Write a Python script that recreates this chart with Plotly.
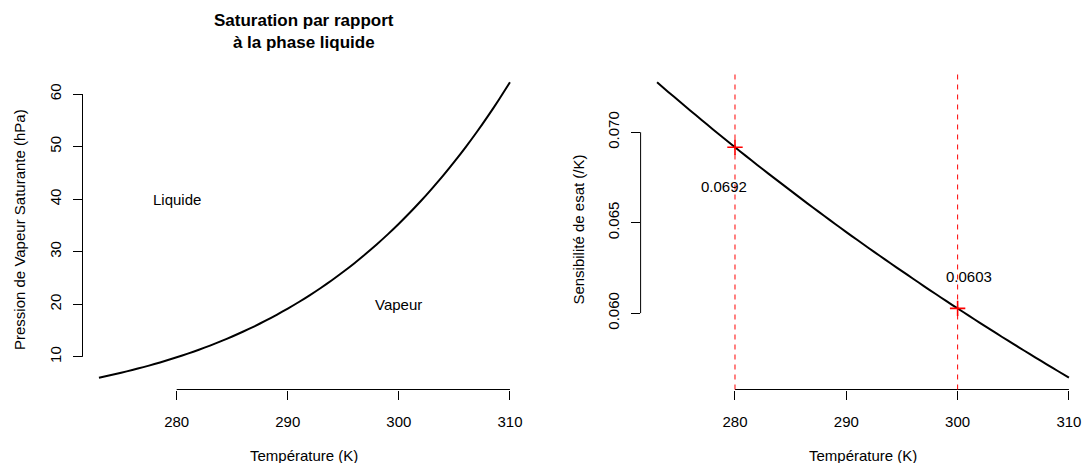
import plotly.graph_objects as go

# ---- data ----
temperature = list(range(273, 311))  # K
esat_hpa = [6.04, 6.50, 6.99, 7.50, 8.05, 8.63, 9.26, 9.92, 10.61, 11.36,
            12.15, 12.99, 13.88, 14.82, 15.82, 16.88, 18.00, 19.19, 20.44, 21.76,
            23.15, 24.63, 26.19, 27.82, 29.56, 31.38, 33.30, 35.33, 37.45, 39.69,
            42.06, 44.52, 47.13, 49.86, 52.73, 55.75, 58.91, 62.23]
sensibilite = [0.07276, 0.07223, 0.07171, 0.07119, 0.07068, 0.07017, 0.06967, 0.06917,
               0.06868, 0.06819, 0.06771, 0.06724, 0.06677, 0.06630, 0.06584, 0.06538,
               0.06493, 0.06448, 0.06404, 0.06360, 0.06317, 0.06274, 0.06232, 0.06190,
               0.06148, 0.06107, 0.06066, 0.06026, 0.05986, 0.05946, 0.05907, 0.05868,
               0.05830, 0.05792, 0.05754, 0.05717, 0.05680, 0.05643]

x_ticks = [280, 290, 300, 310]
y1_ticks = [10, 20, 30, 40, 50, 60]
y2_ticks = [0.060, 0.065, 0.070]

region_labels = ["Liquide", "Vapeur"]
region_x = [280, 300]
region_y = [40, 20]

mark_T = [280, 300]
mark_text = ["0.0692", "0.0603"]
mark_text_x = [279, 301]
mark_text_y = [0.0670, 0.0620]

title_left = "Saturation par rapport<br>à la phase liquide"
xlabel = "Température (K)"
ylabel_left = "Pression de Vapeur Saturante (hPa)"
ylabel_right = "Sensibilité de esat (/K)"

# ---- geometry ----
W, H = 1086, 463
FONT = "Liberation Sans, Arial, Helvetica, sans-serif"
FS = 15


def padded(vals):
    lo, hi = min(vals), max(vals)
    p = 0.04 * (hi - lo)
    return [lo - p, hi + p]


xr = padded(temperature)
y1r = padded(esat_hpa)
y2r = padded(sensibilite)

dom_x1 = [82.5 / W, 526.4 / W]
dom_x2 = [640.6 / W, 1085.4 / W]
dom_y = [(H - 389.5) / H, (H - 70.5) / H]

fig = go.Figure()
fig.add_trace(go.Scatter(x=temperature, y=esat_hpa, mode="lines",
                         line=dict(color="black", width=2, shape="spline", smoothing=0.6),
                         xaxis="x", yaxis="y", showlegend=False, hoverinfo="skip"))
fig.add_trace(go.Scatter(x=temperature, y=sensibilite, mode="lines",
                         line=dict(color="black", width=2, shape="spline", smoothing=0.6),
                         xaxis="x2", yaxis="y2", showlegend=False, hoverinfo="skip"))

mark_y = [sensibilite[temperature.index(t)] for t in mark_T]
fig.add_trace(go.Scatter(x=mark_T, y=mark_y, mode="markers",
                         marker=dict(symbol="cross-thin", size=11,
                                     line=dict(color="red", width=1.6)),
                         xaxis="x2", yaxis="y2", showlegend=False, hoverinfo="skip"))

axis_common = dict(showgrid=False, zeroline=False, showline=False,
                   ticks="outside", ticklen=9, tickwidth=1, tickcolor="black",
                   tickfont=dict(family=FONT, size=FS, color="black"))

fig.update_layout(
    width=W, height=H,
    margin=dict(l=0, r=0, t=0, b=0),
    paper_bgcolor="white", plot_bgcolor="white",
    font=dict(family=FONT, size=FS, color="black"),
    xaxis=dict(domain=dom_x1, range=xr, tickvals=x_ticks, anchor="y",
               ticklabelstandoff=9, **axis_common),
    yaxis=dict(domain=dom_y, range=y1r, tickvals=y1_ticks, anchor="x",
               tickangle=-90, ticklabelstandoff=6, **axis_common),
    xaxis2=dict(domain=dom_x2, range=xr, tickvals=x_ticks, anchor="y2",
                ticklabelstandoff=9, **axis_common),
    yaxis2=dict(domain=dom_y, range=y2r, tickvals=y2_ticks, anchor="x2",
                tickformat=".3f", tickangle=-90, ticklabelstandoff=6, **axis_common),
)

shapes = []
# R-style axis lines spanning first to last tick
for xa, ya, yt in (("x", "y", y1_ticks), ("x2", "y2", y2_ticks)):
    shapes.append(dict(type="line", xref=xa, yref=ya + " domain",
                       x0=x_ticks[0], x1=x_ticks[-1], y0=0, y1=0,
                       line=dict(color="black", width=1)))
    shapes.append(dict(type="line", xref=xa + " domain", yref=ya,
                       x0=0, x1=0, y0=yt[0], y1=yt[-1],
                       line=dict(color="black", width=1)))
# red dashed verticals
for t in mark_T:
    shapes.append(dict(type="line", xref="x2", yref="y2 domain",
                       x0=t, x1=t, y0=0, y1=1,
                       line=dict(color="red", width=1, dash="5px,5px")))
fig.update_layout(shapes=shapes)

ann = []
for lab, x, y in zip(region_labels, region_x, region_y):
    ann.append(dict(text=lab, x=x, y=y, xref="x", yref="y", showarrow=False,
                    font=dict(family=FONT, size=FS, color="black")))
for lab, x, y in zip(mark_text, mark_text_x, mark_text_y):
    ann.append(dict(text=lab, x=x, y=y, xref="x2", yref="y2", showarrow=False,
                    font=dict(family=FONT, size=FS, color="black")))

cx1 = (dom_x1[0] + dom_x1[1]) / 2
cx2 = (dom_x2[0] + dom_x2[1]) / 2
cy = (dom_y[0] + dom_y[1]) / 2
ann.append(dict(text="<b>" + title_left + "</b>", x=cx1, y=1 - 32 / H,
                xref="paper", yref="paper", showarrow=False,
                xanchor="center", yanchor="middle",
                font=dict(family=FONT, size=17, color="black")))
for cx in (cx1, cx2):
    ann.append(dict(text=xlabel, x=cx, y=(H - 455) / H, xref="paper", yref="paper",
                    showarrow=False, xanchor="center", yanchor="middle",
                    font=dict(family=FONT, size=FS, color="black")))
ann.append(dict(text=ylabel_left, x=19 / W, y=cy, xref="paper", yref="paper",
                showarrow=False, textangle=-90, xanchor="center", yanchor="middle",
                font=dict(family=FONT, size=FS, color="black")))
ann.append(dict(text=ylabel_right, x=577.6 / W, y=cy, xref="paper", yref="paper",
                showarrow=False, textangle=-90, xanchor="center", yanchor="middle",
                font=dict(family=FONT, size=FS, color="black")))
fig.update_layout(annotations=ann)

fig.write_html("out.html", config={"displayModeBar": False},
               post_script="document.body.style.margin='0';document.body.style.overflow='hidden';")
